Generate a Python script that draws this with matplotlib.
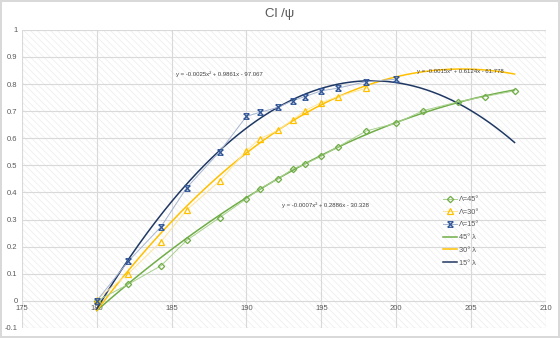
import numpy as np
import matplotlib.pyplot as plt
from matplotlib.path import Path
from matplotlib.patches import Rectangle

# sweep angle runs: x position vs Cl/psi
x_common = [180.0, 182.1, 184.3, 186.0, 188.2, 190.0, 190.9, 192.1, 193.1, 193.9, 195.0, 196.1, 198.0, 200.0]

x_45 = x_common + [201.8, 204.1, 205.9, 207.9]
y_45 = [0.0, 0.061, 0.130, 0.223, 0.307, 0.377, 0.414, 0.450, 0.487, 0.505, 0.534, 0.568, 0.627, 0.656,
        0.702, 0.734, 0.754, 0.775]

x_30 = x_common[:13]
y_30 = [0.005, 0.100, 0.219, 0.335, 0.442, 0.554, 0.599, 0.629, 0.669, 0.702, 0.732, 0.754, 0.785]

x_15 = x_common
y_15 = [0.0, 0.146, 0.274, 0.417, 0.550, 0.681, 0.696, 0.714, 0.739, 0.754, 0.775, 0.785, 0.809, 0.818]

# quadratic trendline coefficients (a, b, c) as printed on the chart
coef_45 = (-0.0007, 0.2886, -30.328)
coef_30 = (-0.0015, 0.6124, -61.778)
coef_15 = (-0.0025, 0.9861, -97.067)
trend_end = 207.9

GREEN, YELLOW, BLUE = '#70AD47', '#FFC000', '#1F3864'
MARK_BLUE = '#2F5597'

plt.rcParams['font.family'] = ['Liberation Sans', 'DejaVu Sans']
plt.rcParams['hatch.linewidth'] = 0.5


def eq_text(c):
    a, b, k = c
    return f"y = {a:.4f}x\u00b2 + {b:.4f}x - {abs(k):.3f}"


def trend(xv, yv, a):
    # keep the printed x^2 term, least-squares the linear part on the data
    xv, yv = np.asarray(xv), np.asarray(yv)
    b, c = np.polyfit(xv, yv - a * xv ** 2, 1)
    return np.array([a, b, c])


# bowtie marker
star = Path([(-1, -1), (1, 1), (-1, 1), (1, -1), (-1, 1), (1, 1), (-1, -1), (1, -1)],
            [Path.MOVETO, Path.LINETO, Path.MOVETO, Path.LINETO,
             Path.MOVETO, Path.LINETO, Path.MOVETO, Path.LINETO])

fig = plt.figure(figsize=(5.6, 3.38), dpi=100)
fig.patch.set_edgecolor('#d9d9d9')
fig.patch.set_linewidth(1.5)
ax = fig.add_axes([0.039, 0.0296, 0.936, 0.882])
ax.add_patch(Rectangle((0, 0), 1, 1, transform=ax.transAxes, facecolor='white',
                       edgecolor='#ececec', lw=0, hatch='\\\\\\\\\\', zorder=0))

ax.set_xlim(175, 210)
ax.set_ylim(-0.1, 1.0)
ax.set_xticks(np.arange(175, 211, 5))
ax.set_yticks(np.round(np.arange(-0.1, 1.01, 0.1), 1))
ax.set_yticklabels(['-0.1', '0', '0.1', '0.2', '0.3', '0.4', '0.5', '0.6', '0.7', '0.8', '0.9', '1'])
ax.grid(True, color='#d9d9d9', lw=0.8, zorder=0.5)
ax.set_axisbelow(True)
for s in ax.spines.values():
    s.set_visible(False)
ax.spines['bottom'].set_position(('data', 0))
ax.tick_params(length=0, labelsize=5.5, colors='#595959', pad=3)

series = [
    (x_45, y_45, coef_45, GREEN, '#A9D18E', 'D', 3.2, 'Λ=45°', '45° λ'),
    (x_30, y_30, coef_30, YELLOW, '#FFE699', '^', 4.2, 'Λ=30°', '30° λ'),
    (x_15, y_15, coef_15, BLUE, '#A6B5D0', star, 4.0, 'Λ=15°', '15° λ'),
]

handles_pts, handles_fit = [], []
for xv, yv, cf, col, light, mk, ms, lab_pts, lab_fit in series:
    mcol = MARK_BLUE if mk is star else col
    h, = ax.plot(xv, yv, color=light, lw=0.7, marker=mk, ms=ms,
                 mfc=mcol if mk is star else 'none', mec=mcol, mew=0.9, label=lab_pts, zorder=3)
    handles_pts.append(h)
    xs = np.linspace(min(xv), trend_end, 200)
    f, = ax.plot(xs, np.polyval(trend(xv, yv, cf[0]), xs), color=col, lw=1.1, label=lab_fit, zorder=2)
    handles_fit.append(f)

ax.text(185.3, 0.835, eq_text(coef_15), fontsize=4.3, color='#404040', va='center')
ax.text(201.4, 0.846, eq_text(coef_30), fontsize=4.3, color='#404040', va='center')
ax.text(192.4, 0.353, eq_text(coef_45), fontsize=4.3, color='#404040', va='center')

ax.legend(handles_pts + handles_fit, [h.get_label() for h in handles_pts + handles_fit],
          loc='upper left', bbox_to_anchor=(0.79, 0.465), frameon=False, fontsize=5.3,
          labelcolor='#595959', handlelength=2.0, handletextpad=0.2, labelspacing=0.75)

fig.text(0.5, 0.958, 'Cl /ψ', ha='center', va='center', fontsize=9.5, color='#595959')

fig.savefig('out.png', dpi=100)
